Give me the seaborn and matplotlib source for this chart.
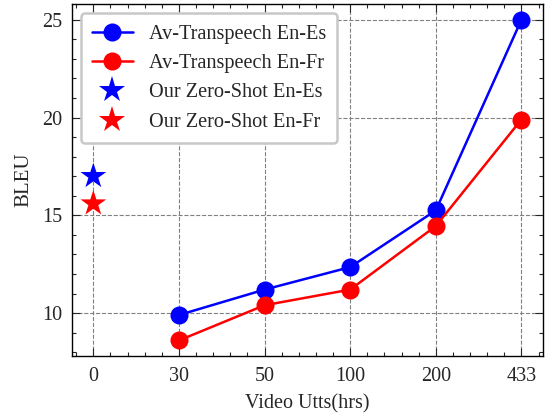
import matplotlib
matplotlib.use("Agg")
import matplotlib.pyplot as plt
import seaborn as sns
import pandas as pd
from matplotlib.ticker import MultipleLocator

x_labels = ["0", "30", "50", "100", "200", "433"]
hours = ["30", "50", "100", "200", "433"]
av_es = [9.9, 11.2, 12.35, 15.25, 25.0]
av_fr = [8.6, 10.4, 11.2, 14.45, 19.9]
zs_es = [17.0]
zs_fr = [15.6]

sns.set_theme(style="ticks")
plt.rcParams["font.family"] = ["Liberation Serif", "DejaVu Serif"]
plt.rcParams["mathtext.fontset"] = "stix"

pos = {lab: i for i, lab in enumerate(x_labels)}
df = pd.DataFrame({
    "x": [pos[h] for h in hours] * 2,
    "BLEU": av_es + av_fr,
    "series": ["Av-Transpeech En-Es"] * len(hours) + ["Av-Transpeech En-Fr"] * len(hours),
})
df_zs = pd.DataFrame({
    "x": [pos["0"]] * 2,
    "BLEU": zs_es + zs_fr,
    "series": ["Our Zero-Shot En-Es", "Our Zero-Shot En-Fr"],
})

fig, ax = plt.subplots(figsize=(5.45, 4.15), dpi=100)
fig.subplots_adjust(left=0.132, right=0.996, top=0.99, bottom=0.142)

sns.lineplot(data=df, x="x", y="BLEU", hue="series",
             palette={"Av-Transpeech En-Es": "blue", "Av-Transpeech En-Fr": "red"},
             marker="o", markersize=13, markeredgewidth=0, linewidth=1.8, ax=ax, zorder=3)
sns.scatterplot(data=df_zs, x="x", y="BLEU", hue="series",
                palette={"Our Zero-Shot En-Es": "blue", "Our Zero-Shot En-Fr": "red"},
                marker="*", s=380, linewidth=0, ax=ax, zorder=3)

ax.set_xlim(-0.25, 5.25)
ax.set_ylim(7.8, 25.8)
ax.set_xticks(range(len(x_labels)))
ax.set_xticklabels(x_labels)
ax.set_yticks([10, 15, 20, 25])
ax.xaxis.set_minor_locator(MultipleLocator(0.2))
ax.yaxis.set_minor_locator(MultipleLocator(1))
ax.tick_params(which="both", direction="in", top=True, right=True, labelsize=14.5, width=0.8)
ax.tick_params(which="major", length=6)
ax.tick_params(which="minor", length=3)
ax.tick_params(axis="y", which="major", pad=7)
ax.tick_params(axis="x", which="major", pad=8)
for s in ax.spines.values():
    s.set_linewidth(1.0)
    s.set_color("black")
ax.grid(True, which="major", linestyle="--", color="gray", linewidth=0.8)
ax.set_xlabel("Video Utts(hrs)", fontsize=14.5, labelpad=6)
ax.set_ylabel("BLEU", fontsize=15, labelpad=6)

leg = ax.legend(loc="upper left", fontsize=14.6, frameon=True, fancybox=True,
                framealpha=1.0, edgecolor="#c8c8c8", borderpad=0.55, labelspacing=0.5,
                handlelength=2.0, handletextpad=0.8, borderaxespad=0.45)
leg.get_frame().set_linewidth(1.8)
for h in leg.legend_handles[2:]:
    try:
        h.set_sizes([420])
    except Exception:
        pass

fig.savefig("out.png", dpi=100)
